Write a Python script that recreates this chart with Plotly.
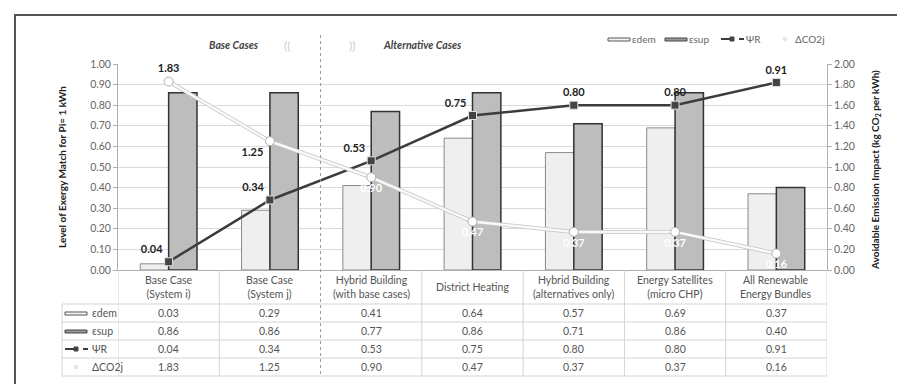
import plotly.graph_objects as go

categories = ["Base Case<br>(System i)", "Base Case<br>(System j)", "Hybrid Building<br>(with base cases)",
              "District Heating", "Hybrid Building<br>(alternatives only)", "Energy Satellites<br>(micro CHP)",
              "All Renewable<br>Energy Bundles"]
eps_dem = [0.03, 0.29, 0.41, 0.64, 0.57, 0.69, 0.37]
eps_sup = [0.86, 0.86, 0.77, 0.86, 0.71, 0.86, 0.40]
psi_r = [0.04, 0.34, 0.53, 0.75, 0.80, 0.80, 0.91]
dco2 = [1.83, 1.25, 0.90, 0.47, 0.37, 0.37, 0.16]
series_names = ["εdem", "εsup", "ΨR", "ΔCO2j"]

W, H = 905, 384
L, R, T, B = 110, 86, 56, 122
PW, PH = W - L - R, H - T - B


def px(X):
    return (X - L) / PW


def py(Y):
    return (H - B - Y) / PH


FONT = "Lato, 'Open Sans', sans-serif"
xs = list(range(len(categories)))

fig = go.Figure()
fig.add_trace(go.Bar(x=xs, y=eps_dem, name=series_names[0],
                     marker=dict(color="#efefef", line=dict(color="#8a8a8a", width=1))))
fig.add_trace(go.Bar(x=xs, y=eps_sup, name=series_names[1],
                     marker=dict(color="#bdbdbd", line=dict(color="#333333", width=1.5))))
fig.add_trace(go.Scatter(x=xs, y=psi_r, name=series_names[2], mode="lines+markers+text",
                         line=dict(color="#3c3c3c", width=2.5),
                         marker=dict(symbol="square", size=8, color="#444444", line=dict(color="#e0e0e0", width=1)),
                         text=[f"{v:.2f}" for v in psi_r],
                         textposition=["top left", "top left", "top left", "top left", "top center", "top center", "top center"],
                         textfont=dict(family=FONT, size=11, color="#222222", weight="bold")))
# shadow under the emission line
fig.add_trace(go.Scatter(x=xs, y=dco2, yaxis="y2", mode="lines", showlegend=False, hoverinfo="skip",
                         line=dict(color="#c4c4c4", width=4)))
fig.add_trace(go.Scatter(x=xs, y=dco2, yaxis="y2", name=series_names[3], mode="lines+markers+text",
                         line=dict(color="#f9f9f9", width=2.5),
                         marker=dict(symbol="circle", size=9, color="#ffffff", line=dict(color="#b0b0b0", width=1)),
                         text=[f"{v:.2f}" for v in dco2],
                         textposition=["top center", "bottom left", "bottom center", "bottom center",
                                       "bottom center", "bottom center", "bottom center"],
                         textfont=dict(family=FONT, size=11, weight="bold",
                                       color=["#222222", "#222222", "#ffffff", "#ffffff", "#ffffff", "#ffffff", "#ffffff"])))

shapes = []
annotations = []


def note(x, y, text, size=10.5, color="#555555", xref="paper", xanchor="center", **kw):
    annotations.append(dict(x=x, xref=xref, y=y, yref="paper", text=text, showarrow=False,
                            xanchor=xanchor, yanchor="middle",
                            font=dict(family=FONT, size=size, color=color), **kw))


def key(kind, x0, yc):
    """Small legend key drawn at pixel position (x0 = left edge, yc = centre)."""
    if kind == 0:
        shapes.append(dict(type="rect", xref="paper", yref="paper", x0=px(x0), x1=px(x0 + 22),
                           y0=py(yc + 2), y1=py(yc - 1), fillcolor="#f4f4f4", line=dict(color="#555555", width=1)))
    elif kind == 1:
        shapes.append(dict(type="rect", xref="paper", yref="paper", x0=px(x0), x1=px(x0 + 22),
                           y0=py(yc + 2), y1=py(yc - 1), fillcolor="#9a9a9a", line=dict(color="#444444", width=1)))
    elif kind == 2:
        shapes.append(dict(type="line", xref="paper", yref="paper", x0=px(x0), x1=px(x0 + 23),
                           y0=py(yc), y1=py(yc), line=dict(color="#3c3c3c", width=2, dash="dash")))
        shapes.append(dict(type="rect", xref="paper", yref="paper", x0=px(x0 + 9), x1=px(x0 + 13),
                           y0=py(yc + 2), y1=py(yc - 2), fillcolor="#444444", line=dict(color="#444444", width=1)))
    else:
        shapes.append(dict(type="circle", xref="paper", yref="paper", x0=px(x0 + 9), x1=px(x0 + 13),
                           y0=py(yc + 2), y1=py(yc - 2), fillcolor="#e6e6e6", line=dict(color="#e6e6e6", width=1)))


# frame
shapes.append(dict(type="line", xref="paper", yref="paper", x0=px(6), x1=px(905), y0=py(7), y1=py(7),
                   line=dict(color="#555555", width=2)))
shapes.append(dict(type="line", xref="paper", yref="paper", x0=px(7), x1=px(7), y0=py(6), y1=py(384),
                   line=dict(color="#555555", width=2)))

# table grid
row_lines = [296, 314, 332, 350, 368]
for Yl in row_lines:
    shapes.append(dict(type="line", xref="paper", yref="paper", x0=px(54), x1=1, y0=py(Yl), y1=py(Yl),
                       line=dict(color="#d4d4d4", width=1)))
shapes.append(dict(type="line", xref="paper", yref="paper", x0=px(54), x1=px(54), y0=py(296), y1=py(368),
                   line=dict(color="#d4d4d4", width=1)))
for k in range(len(categories) + 1):
    if k == 2:
        continue
    shapes.append(dict(type="line", xref="x", yref="paper", x0=k - 0.5, x1=k - 0.5, y0=0, y1=py(368),
                       line=dict(color="#d4d4d4", width=1)))
# dashed separator between base and alternative cases
shapes.append(dict(type="line", xref="x", yref="paper", x0=1.5, x1=1.5, y0=py(27), y1=py(368),
                   line=dict(color="#9a9a9a", width=1, dash="dot")))

# category labels
for i, c in enumerate(categories):
    note(i, py(279), c, xref="x", align="center")

# table values with legend keys
rows = [eps_dem, eps_sup, psi_r, dco2]
row_centers = [305, 323, 341, 359]
for r, vals in enumerate(rows):
    for i, v in enumerate(vals):
        note(i, py(row_centers[r]), f"{v:.2f}", xref="x")
    note(px(82), py(row_centers[r]), series_names[r], xanchor="left")
    key(r, 57, row_centers[r])

# top legend
leg_y = 31
leg_x = [600, 657, 713, 766]
leg_tx = [622, 679, 736, 785]
for r in range(4):
    key(r, leg_x[r], leg_y)
    note(px(leg_tx[r]), py(leg_y), series_names[r], size=10, color="#666666", xanchor="left")

# section headings
note(px(226), py(37), "<i><b>Base Cases</b></i>", color="#444444")
note(px(279), py(37), "((", size=12, color="#cccccc")
note(px(344), py(37), "))", size=12, color="#cccccc")
note(px(373), py(37), "<i><b>Alternative Cases</b></i>", color="#444444", xanchor="left")

# axis titles
note(px(54), py(159), "<b>Level of Exergy Match for Pi= 1 kWh</b>", size=10, color="#222222", textangle=-90)
note(px(867), py(162), "<b>Avoidable Emission Impact (kg CO<sub>2</sub> per kWh)</b>", size=10,
     color="#222222", textangle=-90)

fig.update_layout(
    width=W, height=H,
    margin=dict(l=L, r=R, t=T, b=B, autoexpand=False),
    paper_bgcolor="white", plot_bgcolor="white",
    barmode="group", bargap=0.44, bargroupgap=0,
    font=dict(family=FONT, size=10, color="#666666"),
    xaxis=dict(range=[-0.5, 6.5], showticklabels=False, showgrid=False, zeroline=False,
               showline=True, linecolor="#b0b0b0", ticks="", automargin=False),
    yaxis=dict(range=[0, 1], dtick=0.1, tickformat=".2f", showgrid=True, gridcolor="#dadada",
               zeroline=False, showline=True, linecolor="#b0b0b0", ticks="outside", ticklen=4,
               tickcolor="#b0b0b0", automargin=False, tickfont=dict(family=FONT, size=10.5, color="#666666")),
    yaxis2=dict(range=[0, 2], dtick=0.2, tickformat=".2f", overlaying="y", side="right", showgrid=False,
                zeroline=False, showline=True, linecolor="#b0b0b0", ticks="outside", ticklen=4, automargin=False,
                tickcolor="#b0b0b0", tickfont=dict(family=FONT, size=10.5, color="#666666")),
    shapes=shapes, annotations=annotations,
    showlegend=False,
)

fig.write_html("out.html")
